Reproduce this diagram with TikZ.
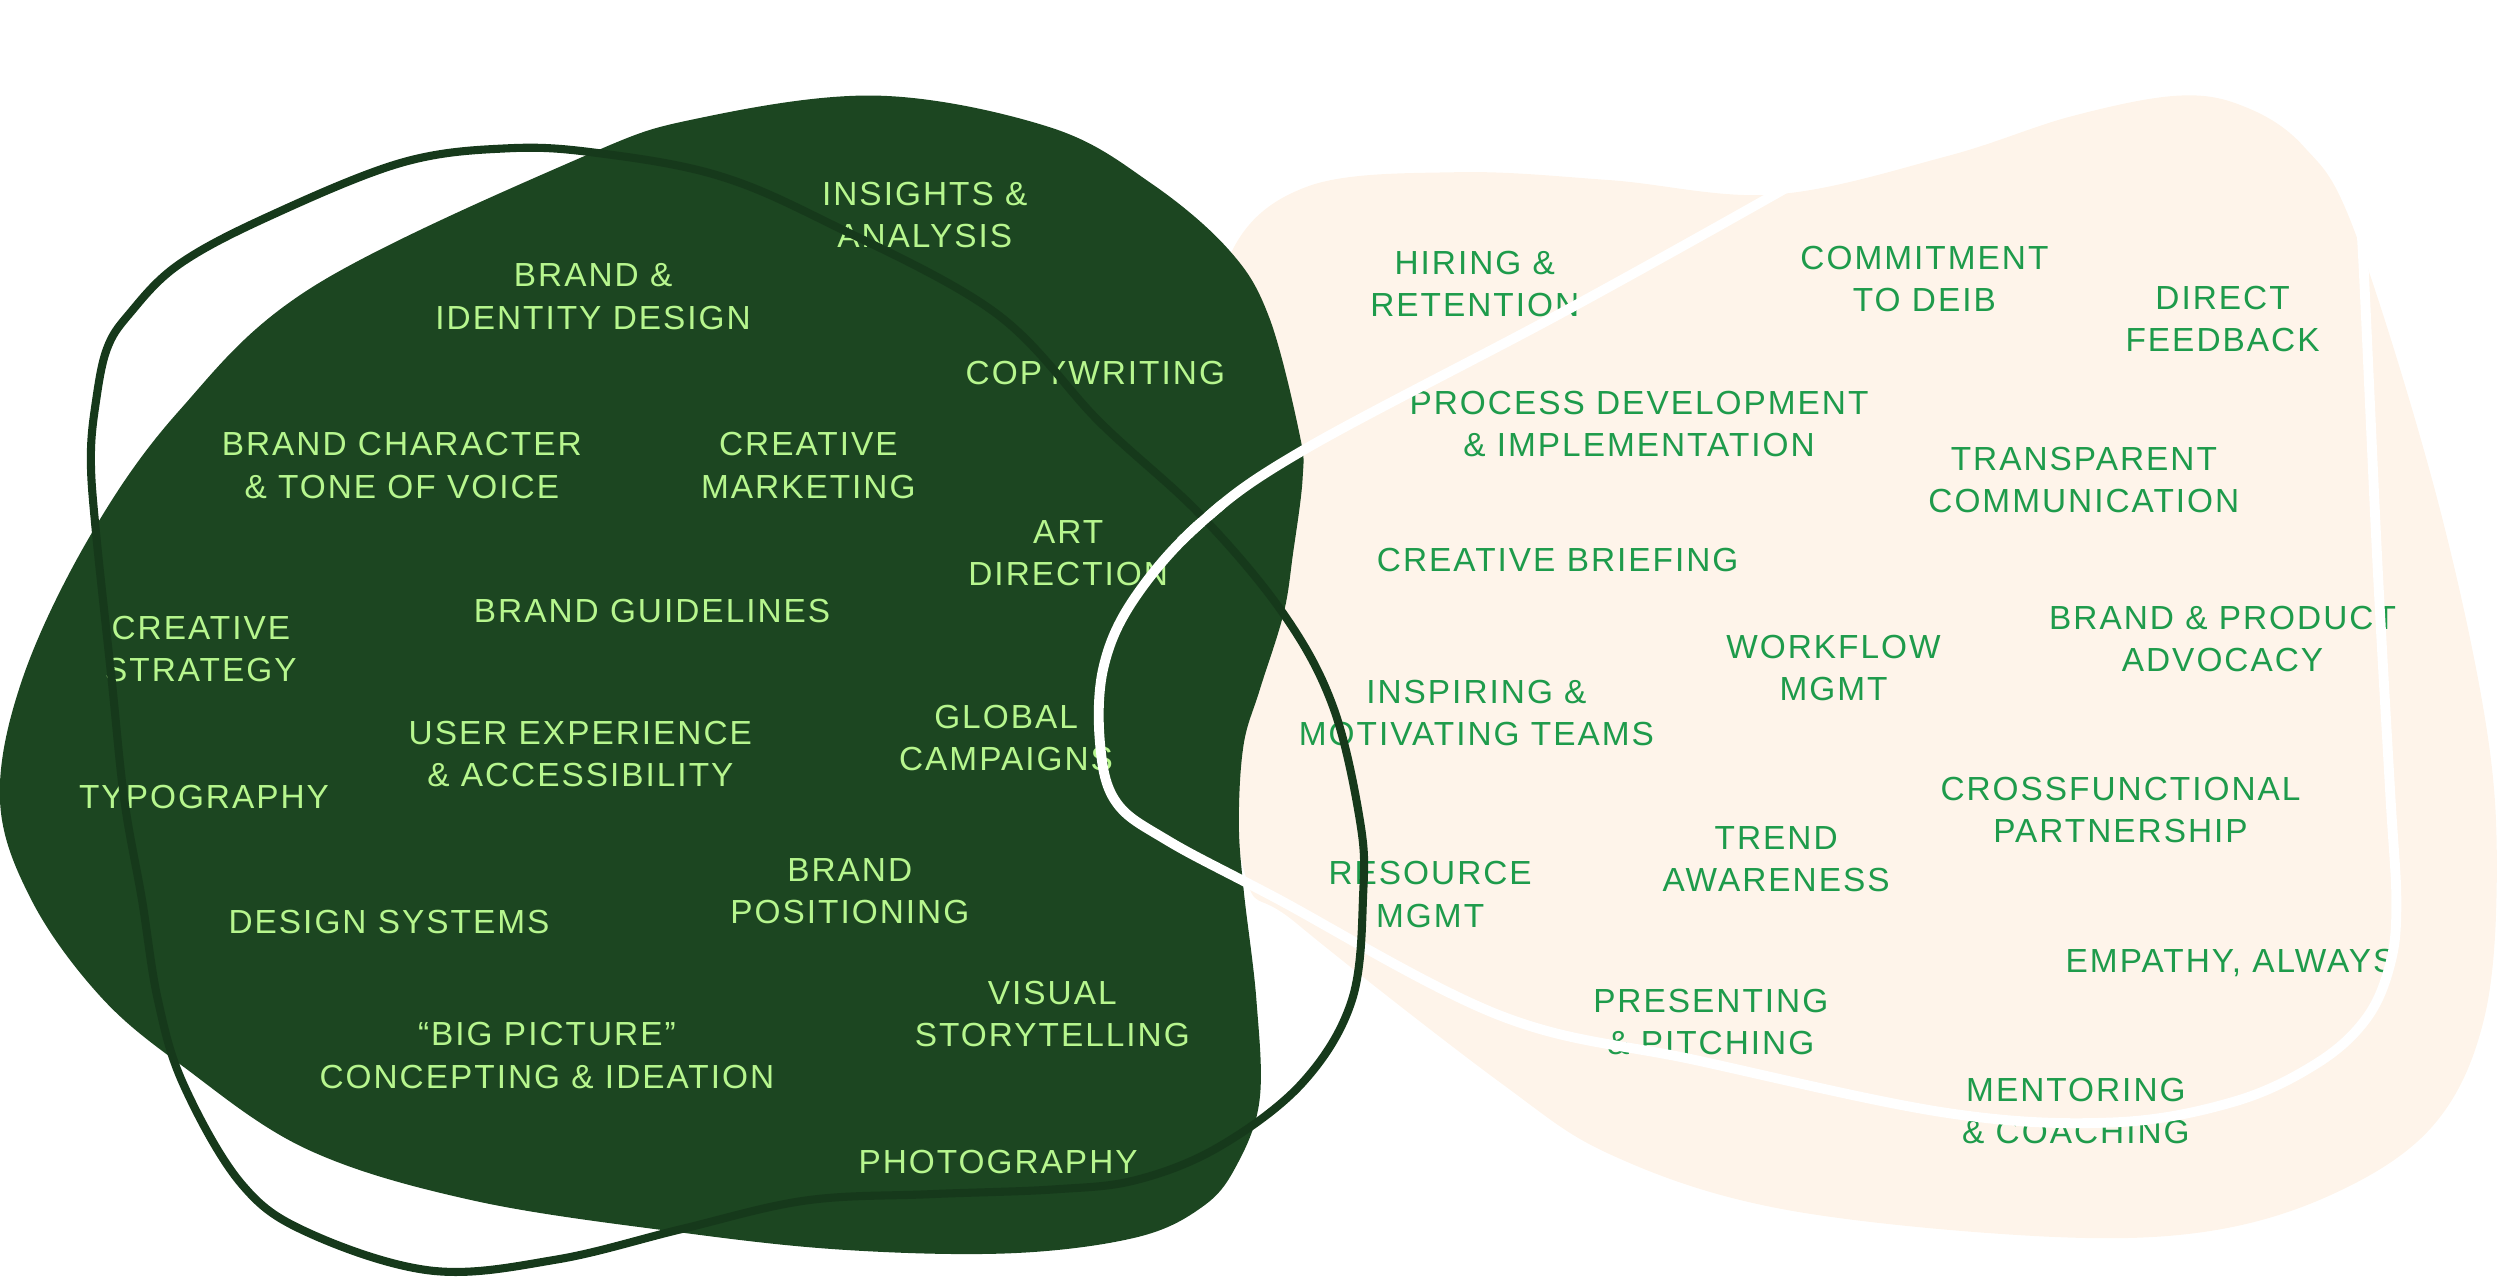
\documentclass[tikz,border=0pt]{standalone}
\usepackage{fontspec}
\newfontfamily\skillfont{Liberation Sans}[LetterSpace=6.0]
\usepackage{xcolor}

\definecolor{forest}{HTML}{1C4621}
\definecolor{cream}{HTML}{FEF4EA}
\definecolor{ringgreen}{HTML}{16391B}
\definecolor{lime}{HTML}{B7F68E}
\definecolor{leaf}{HTML}{1E9B4B}

\begin{document}
\begin{tikzpicture}[
    x=0.0159439cm, y=-0.0159439cm,
    inner/.style={text=lime, font=\skillfont\fontsize{9.5}{12}\selectfont, align=center, inner sep=0pt},
    outer/.style={text=leaf, font=\skillfont\fontsize{9.5}{12}\selectfont, align=center, inner sep=0pt},
    ring/.style={draw=ringgreen, line width=2.3pt},
    whiteline/.style={draw=white, line width=2.8pt}
]
    \useasboundingbox (0,0) rectangle (1568,803);

    % Cream blob
    \fill[cream] plot[smooth cycle, tension=0.6] coordinates {
        (771,161) (820,117) (914,108) (1010,113) (1113,122) (1221,98) (1299,73)
        (1366,60) (1408,67) (1445,92) (1476,143) (1526,303) (1558,447) (1566,543)
        (1558,639) (1526,706) (1463,749) (1380,773) (1272,775) (1116,758) (1012,725)
        (941,679) (813,579) (780,545) (765,400) (760,250)};

    % Dark blob
    \fill[forest] plot[smooth cycle, tension=0.6] coordinates {
        (551,60) (659,80) (722,115) (771,157) (796,199) (815,272) (817,300)
        (811,347) (805,385) (790,433) (780,467) (777,515) (780,558) (788,627)
        (790,690) (775,732) (754,757) (713,776) (635,786) (531,784) (427,773)
        (297,753) (193,721) (115,669) (63,625) (20,565) (0,502) (14,426)
        (56,337) (112,258) (196,180) (364,99) (439,74)};

    % Skills on the dark blob
    \node[inner] (insights) at (580,135) {INSIGHTS \&\\ANALYSIS};
    \node[inner] (identity) at (372,186) {BRAND \&\\IDENTITY DESIGN};
    \node[inner] (copy) at (687,234) {COPYWRITING};
    \node[inner] (character) at (252,292) {BRAND CHARACTER\\\& TONE OF VOICE};
    \node[inner] (marketing) at (507,292) {CREATIVE\\MARKETING};
    \node[inner] (artdir) at (670,347) {ART\\DIRECTION};
    \node[inner] (guidelines) at (409,383) {BRAND GUIDELINES};
    \node[inner] (strategy) at (126,407) {CREATIVE\\STRATEGY};
    \node[inner] (ux) at (364,473) {USER EXPERIENCE\\\& ACCESSIBILITY};
    \node[inner] (global) at (631,463) {GLOBAL\\CAMPAIGNS};
    \node[inner] (typo) at (128,500) {TYPOGRAPHY};
    \node[inner] (positioning) at (533,559) {BRAND\\POSITIONING};
    \node[inner] (systems) at (244,578) {DESIGN SYSTEMS};
    \node[inner] (story) at (660,636) {VISUAL\\STORYTELLING};
    \node[inner] (bigpic) at (343,662) {“BIG PICTURE”\\CONCEPTING \& IDEATION};
    \node[inner] (photo) at (626,729) {PHOTOGRAPHY};

    % Skills on the cream blob
    \node[outer] (hiring) at (925,178) {HIRING \&\\RETENTION};
    \node[outer] (deib) at (1207,175) {COMMITMENT\\TO DEIB};
    \node[outer] (feedback) at (1394,200) {DIRECT\\FEEDBACK};
    \node[outer] (process) at (1028,266) {PROCESS DEVELOPMENT\\\& IMPLEMENTATION};
    \node[outer] (transparent) at (1307,301) {TRANSPARENT\\COMMUNICATION};
    \node[outer] (briefing) at (977,351) {CREATIVE BRIEFING};
    \node[outer] (advocacy) at (1394,401) {BRAND \& PRODUCT\\ADVOCACY};
    \node[outer] (workflow) at (1150,419) {WORKFLOW\\MGMT};
    \node[outer] (inspiring) at (926,447) {INSPIRING \&\\MOTIVATING TEAMS};
    \node[outer] (crossfn) at (1330,508) {CROSSFUNCTIONAL\\PARTNERSHIP};
    \node[outer] (trend) at (1114,539) {TREND\\AWARENESS};
    \node[outer] (resource) at (897,561) {RESOURCE\\MGMT};
    \node[outer] (empathy) at (1399,604) {EMPATHY, ALWAYS};
    \node[outer] (pitching) at (1073,641) {PRESENTING\\\& PITCHING};
    \node[outer] (mentoring) at (1302,697) {MENTORING\\\& COACHING};

    % White ring
    \draw[whiteline] plot[smooth, tension=0.6] coordinates {
        (1130,111) (1113,122) (978,197) (818,282) (753,328) (711,376) (692,419)
        (690,467) (700,503) (732,527) (798,562) (941,637) (1064,665)
        (1221,698) (1325,704) (1401,691) (1453,667) (1484,639) (1499,605)
        (1503,566) (1499,495) (1491,351) (1482,159) (1479,128)};

    % Dark ring
    \draw[ring] plot[smooth cycle, tension=0.6] coordinates {
        (319,93) (375,96) (450,110) (520,140) (624,196) (690,265) (753,323)
        (805,385) (836,443) (853,515) (855,560) (848,627) (817,679) (765,719)
        (713,740) (661,746) (583,749) (505,753) (427,771) (349,790) (271,797)
        (193,773) (151,742) (115,680) (99,627) (89,564) (78,502) (70,426)
        (60,332) (57,287) (60,253) (67,219) (81,197) (112,166) (168,136) (252,102)};

    % White ring again where it crosses over the dark one
    \begin{scope}
        \clip (752,326) circle (18);
        \draw[whiteline] plot[smooth, tension=0.6] coordinates {
            (1113,122) (978,197) (818,282) (753,328) (711,376) (692,419) (690,467)};
    \end{scope}
\end{tikzpicture}
\end{document}
